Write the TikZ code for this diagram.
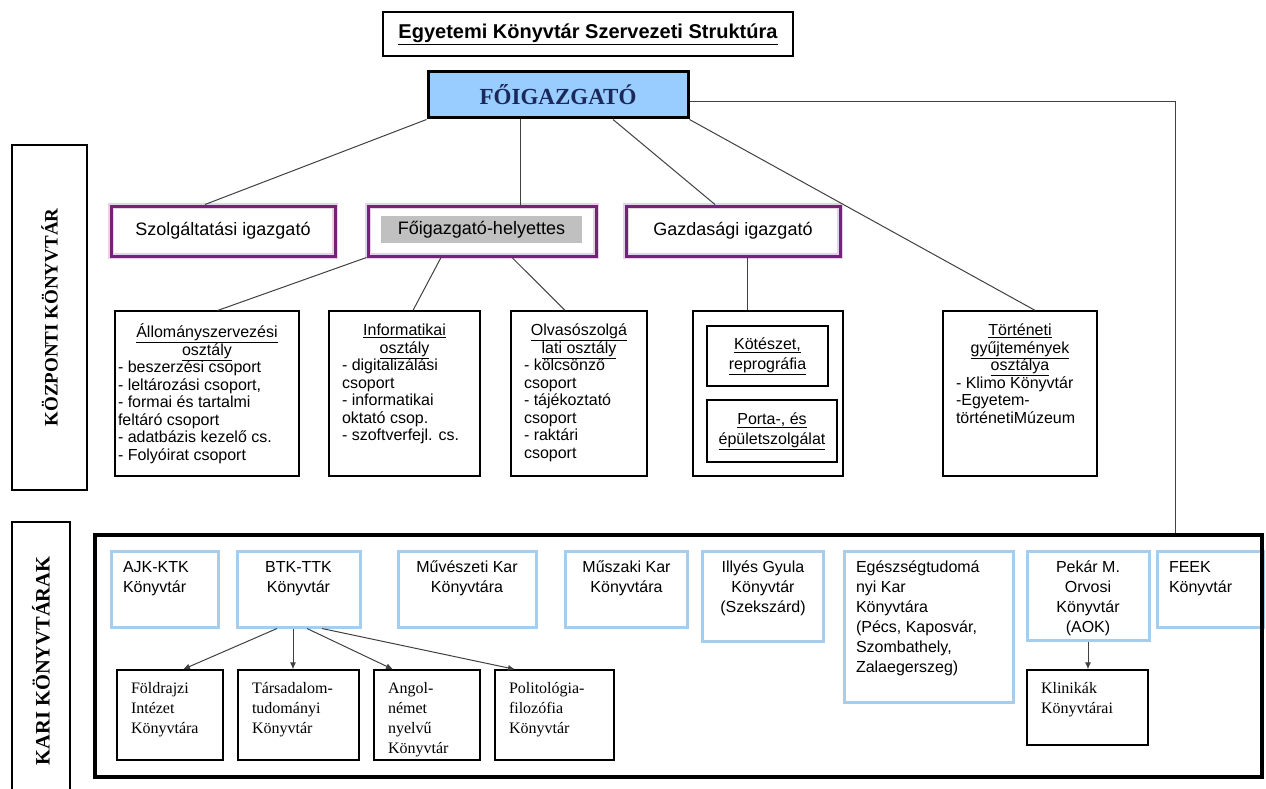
\documentclass[tikz,border=0pt]{standalone}
\usepackage{fontspec}
\setmainfont{Liberation Serif}
\setsansfont{Liberation Sans}
\usetikzlibrary{arrows.meta}
\definecolor{headblue}{RGB}{153,204,255}
\definecolor{headtext}{RGB}{26,40,90}
\definecolor{mgrpurple}{RGB}{118,34,120}
\definecolor{facblue}{RGB}{166,206,236}
\definecolor{helpgrey}{RGB}{192,192,192}
\tikzset{
  mgrbox/.style={draw=mgrpurple, line width=3pt, preaction={draw=mgrpurple!20, line width=6pt}, minimum height=50pt, font=\sffamily\fontsize{18}{20}\selectfont},
  deptbox/.style={draw, line width=1.3pt, inner xsep=13pt, inner ysep=10pt, font=\sffamily\fontsize{16}{17.5}\selectfont},
  subbox/.style={draw, line width=1.3pt, align=center, font=\sffamily\fontsize{16}{20}\selectfont},
  facbox/.style={draw=facblue, line width=3pt, inner xsep=12pt, inner ysep=10pt, font=\sffamily\fontsize{16}{20}\selectfont},
  instbox/.style={draw, line width=1.3pt, inner xsep=14pt, inner ysep=12pt, font=\fontsize{16}{20}\selectfont},
  sidebox/.style={draw, line width=1.3pt, rotate=90, font=\bfseries\fontsize{19}{22}\selectfont},
  link/.style={line width=1pt, draw=black!75},
  branch/.style={link, -{Latex[length=7pt,width=6pt]}}
}
\begin{document}
\begin{tikzpicture}[x=1pt,y=-1pt]
\clip (0,0) rectangle (1266,789);
% top
\node[draw, line width=1.3pt, minimum width=410pt, minimum height=44pt, font=\sffamily\bfseries\fontsize{20}{24}\selectfont] (title) at (588,34) {\underline{Egyetemi Könyvtár Szervezeti Struktúra}};
\node[draw, fill=headblue, line width=3pt, minimum width=260pt, minimum height=46pt, text=headtext, font=\bfseries\fontsize{23}{26}\selectfont] (foig) at (558,95) {FŐIGAZGATÓ};
% side labels
\node[sidebox, minimum width=345pt, minimum height=75pt] (kozp) at (49.5,317.5) {KÖZPONTI KÖNYVTÁR};
\node[sidebox, minimum width=278pt, minimum height=58pt, font=\bfseries\fontsize{20.5}{22}\selectfont] (karilabel) at (41,661) {KARI KÖNYVTÁRAK};
% managers
\node[mgrbox, minimum width=224pt] (szolg) at (223,231) {Szolgáltatási igazgató};
\node[mgrbox, minimum width=228pt] (helyettes) at (482,231) {};
\node[fill=helpgrey, minimum width=201pt, minimum height=27pt, font=\sffamily\fontsize{18}{20}\selectfont] (helyettesfill) at (481.5,229.5) {Főigazgató-helyettes};
\node[mgrbox, minimum width=214pt] (gazd) at (733,231) {Gazdasági igazgató};
% departments
\node[deptbox, inner xsep=3pt] (allo) at (207,393.5) {\parbox[c][145pt][t]{178pt}{\raggedright\vspace*{3pt}
  \makebox[\linewidth]{\underline{Állományszervezési}}\\
  \makebox[\linewidth]{\underline{osztály}}\\
  - beszerzési csoport\\
  - leltározási csoport,\\
  - formai és tartalmi\\
  feltáró csoport\\
  - adatbázis kezelő cs.\\
  - Folyóirat csoport}};
\node[deptbox] (info) at (404.5,393.5) {\parbox[c][145pt][t]{125pt}{\raggedright\vspace*{3pt}
  \makebox[\linewidth]{\underline{Informatikai}}\\
  \makebox[\linewidth]{\underline{osztály}}\\
  - digitalizálási\\
  csoport\\
  - informatikai\\
  oktató csop.\\
  - szoftverfejl. cs.}};
\node[deptbox] (olvaso) at (579,393.5) {\parbox[c][145pt][t]{110pt}{\raggedright\vspace*{3pt}
  \makebox[\linewidth]{\underline{Olvasószolgá}}\\
  \makebox[\linewidth]{\underline{lati osztály}}\\
  - kölcsönző\\
  csoport\\
  - tájékoztató\\
  csoport\\
  - raktári\\
  csoport}};
\node[draw, line width=1.3pt, minimum width=150pt, minimum height=165pt] (gazdsub) at (768,393.5) {};
\node[subbox, minimum width=121pt, minimum height=60pt] (kotes) at (767.5,356) {\underline{Kötészet,}\\\underline{reprográfia}};
\node[subbox, minimum width=130pt, minimum height=62pt] (porta) at (772,431) {\underline{Porta-, és}\\\underline{épületszolgálat}};
\node[deptbox] (tort) at (1020,393.5) {\parbox[c][145pt][t]{128pt}{\raggedright\vspace*{3pt}
  \makebox[\linewidth]{\underline{Történeti}}\\
  \makebox[\linewidth]{\underline{gyűjtemények}}\\
  \makebox[\linewidth]{\underline{osztálya}}\\
  - Klimo Könyvtár\\
  -Egyetem-\\
  történetiMúzeum}};
% faculty libraries
\node[facbox] (ajk) at (164.5,589) {\parbox[c][56pt][t]{83pt}{\raggedright AJK-KTK\\Könyvtár}};
\node[facbox] (btk) at (298.5,589) {\parbox[c][56pt][t]{99pt}{\centering BTK-TTK\\Könyvtár}};
\node[facbox] (muv) at (467,589) {\parbox[c][56pt][t]{114pt}{\centering Művészeti Kar\\Könyvtára}};
\node[facbox] (musz) at (626.5,589) {\parbox[c][56pt][t]{98pt}{\centering Műszaki Kar\\Könyvtára}};
\node[facbox] (illyes) at (763,596) {\parbox[c][70pt][t]{97.5pt}{\centering Illyés Gyula\\Könyvtár\\(Szekszárd)}};
\node[facbox] (egesz) at (928.5,626.5) {\parbox[c][131pt][t]{145pt}{\raggedright Egészségtudomá\\nyi Kar\\Könyvtára\\(Pécs, Kaposvár,\\Szombathely,\\Zalaegerszeg)}};
\node[facbox] (pekar) at (1088,595.5) {\parbox[c][69pt][t]{98pt}{\centering Pekár M.\\Orvosi\\Könyvtár\\(AOK)}};
\node[facbox] (feek) at (1210,589) {\parbox[c][56pt][t]{82pt}{\raggedright FEEK\\Könyvtár}};
% institute libraries
\node[instbox] (foldr) at (170,715) {\parbox[c][66pt][t]{78pt}{\raggedright Földrajzi\\Intézet\\Könyvtára}};
\node[instbox] (tars) at (298.5,715) {\parbox[c][66pt][t]{93pt}{\raggedright Társadalom-\\tudományi\\Könyvtár}};
\node[instbox] (angol) at (427,715) {\parbox[c][66pt][t]{78pt}{\raggedright Angol-\\német\\nyelvű\\Könyvtár}};
\node[instbox] (polit) at (554.5,715) {\parbox[c][66pt][t]{91pt}{\raggedright Politológia-\\filozófia\\Könyvtár}};
\node[instbox] (klin) at (1087.5,707.5) {\parbox[c][51pt][t]{93pt}{\raggedright Klinikák\\Könyvtárai}};
\node[draw, line width=4pt, minimum width=1167pt, minimum height=242pt] (kari) at (678.5,656) {};
% connectors
\coordinate (turn) at (1175,102);
\draw[link] (foig.south west) -- ([xshift=-18pt]szolg.north);
\draw[link] ([xshift=-38pt]foig.south) -- ([xshift=38pt]helyettes.north);
\draw[link] ([xshift=55pt]foig.south) -- ([xshift=-18pt]gazd.north);
\draw[link] (foig.south east) -- ([xshift=15pt]tort.north);
\draw[link] ([yshift=-7pt]foig.east) -- (turn) -- (turn |- kari.north);
\draw[link] (helyettes.south west) -- ([xshift=11pt]allo.north);
\draw[link] ([xshift=-41pt]helyettes.south) -- ([xshift=8.5pt]info.north);
\draw[link] ([xshift=30pt]helyettes.south) -- ([xshift=-14pt]olvaso.north);
\draw[link] ([xshift=14pt]gazd.south) -- ([xshift=-21pt]gazdsub.north);
\draw[branch] ([xshift=-21.5pt]btk.south) -- ([xshift=13pt]foldr.north);
\draw[branch] ([xshift=-5.5pt]btk.south) -- ([xshift=-5.5pt]tars.north);
\draw[branch] ([xshift=8.5pt]btk.south) -- ([xshift=-34pt]angol.north);
\draw[branch] ([xshift=23.5pt]btk.south) -- ([xshift=-39.5pt]polit.north);
\draw[branch] (pekar.south) -- (pekar.south |- klin.north);
\end{tikzpicture}
\end{document}
